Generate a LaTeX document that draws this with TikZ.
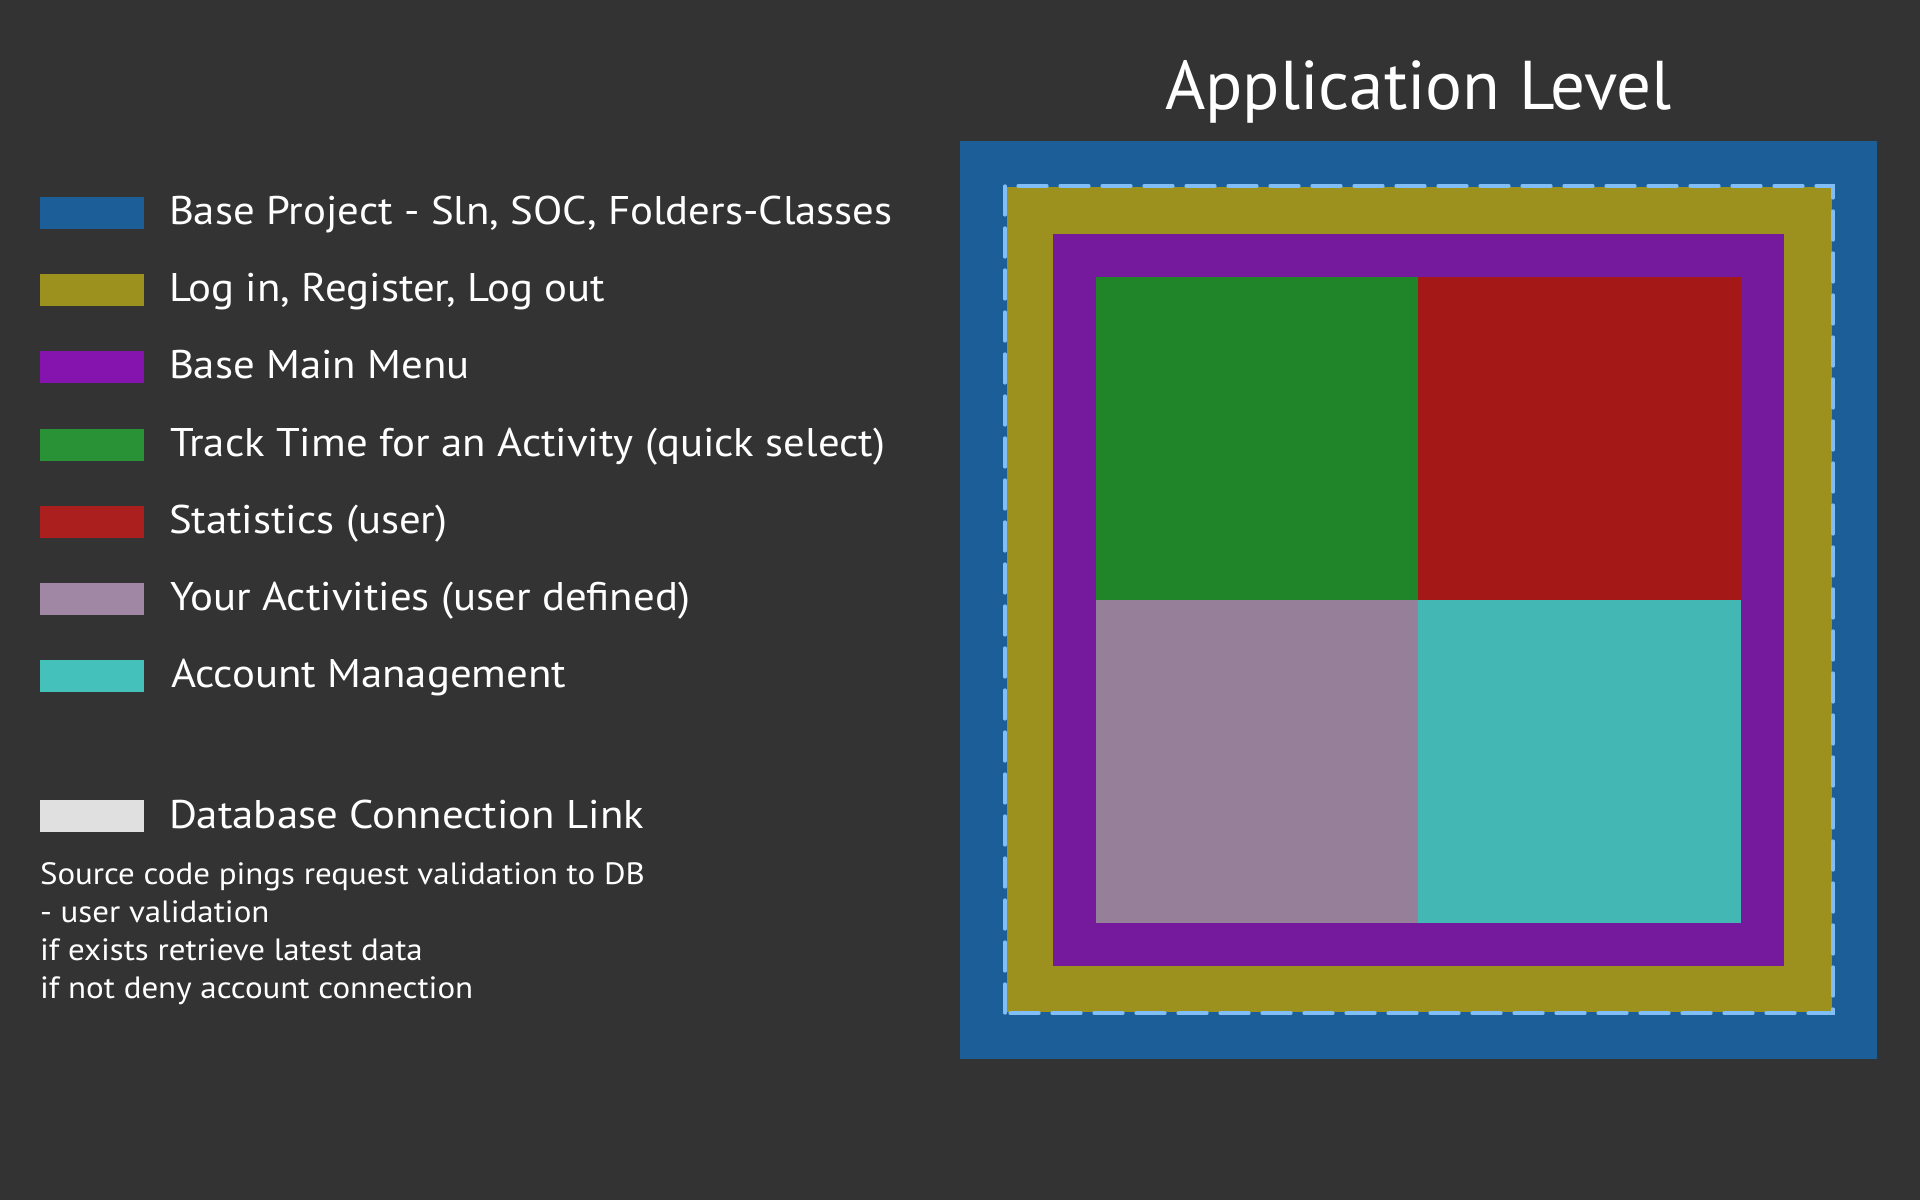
\documentclass[tikz,border=0pt]{standalone}
\usepackage{fontspec}
\setmainfont{PT Sans}
\newfontfamily\legendfont[FakeStretch=1.07]{PT Sans}
\usepackage{tikz}

\begin{document}
\begin{tikzpicture}[x=0.5pt,y=0.5pt]
\definecolor{fillColor}{RGB}{51,51,51}
\path[use as bounding box,fill=fillColor] (0,0) rectangle (1920,1200);
\definecolor{drawColor}{RGB}{255,255,255}

% title
\node[text=drawColor,anchor=base,inner sep=0pt,outer sep=0pt,font=\fontsize{34.5}{41}\selectfont] (title) at (1418.5,1090) {Application Level};

% nested layers
\definecolor{fillColor}{RGB}{27,94,152}
\path[fill=fillColor] ( 960, 141) rectangle (1877,1059);
\definecolor{fillColor}{RGB}{156,144,30}
\path[fill=fillColor] (1007, 188) rectangle (1832,1013);
\definecolor{drawColor}{RGB}{128,190,245}
\path[draw=drawColor,line width=1.6pt,dash pattern=on 14.5pt off 6.5pt,line cap=round] (1005, 187) rectangle (1833,1014);
\definecolor{fillColor}{RGB}{117,26,156}
\path[fill=fillColor] (1053, 234) rectangle (1784, 966);

% modules
\definecolor{fillColor}{RGB}{31,133,40}
\path[fill=fillColor] (1096, 600) rectangle (1418, 923);
\definecolor{fillColor}{RGB}{165,24,24}
\path[fill=fillColor] (1418, 600) rectangle (1741, 923);
\definecolor{fillColor}{RGB}{150,128,153}
\path[fill=fillColor] (1096, 277) rectangle (1418, 600);
\definecolor{fillColor}{RGB}{66,183,179}
\path[fill=fillColor] (1418, 277) rectangle (1741, 600);

% legend swatches
\definecolor{fillColor}{RGB}{27,94,152}
\path[fill=fillColor] (40, 971) rectangle (144,1003);
\definecolor{fillColor}{RGB}{156,144,30}
\path[fill=fillColor] (40, 894) rectangle (144, 926);
\definecolor{fillColor}{RGB}{133,20,175}
\path[fill=fillColor] (40, 817) rectangle (144, 849);
\definecolor{fillColor}{RGB}{42,146,54}
\path[fill=fillColor] (40, 739) rectangle (144, 771);
\definecolor{fillColor}{RGB}{172,31,31}
\path[fill=fillColor] (40, 662) rectangle (144, 694);
\definecolor{fillColor}{RGB}{160,136,164}
\path[fill=fillColor] (40, 585) rectangle (144, 617);
\definecolor{fillColor}{RGB}{69,193,188}
\path[fill=fillColor] (40, 508) rectangle (144, 540);
\definecolor{fillColor}{RGB}{224,224,224}
\path[fill=fillColor] (40, 368) rectangle (144, 400);

% legend labels
\definecolor{drawColor}{RGB}{255,255,255}
\node[text=drawColor,anchor=base west,inner sep=0pt,outer sep=0pt,font=\legendfont\fontsize{20}{24}\selectfont] (lblbase) at (169, 975) {Base Project - Sln, SOC, Folders-Classes};
\node[text=drawColor,anchor=base west,inner sep=0pt,outer sep=0pt,font=\legendfont\fontsize{20}{24}\selectfont] (lbllogin) at (169, 898) {Log in, Register, Log out};
\node[text=drawColor,anchor=base west,inner sep=0pt,outer sep=0pt,font=\legendfont\fontsize{20}{24}\selectfont] (lblmenu) at (169, 821) {Base Main Menu};
\node[text=drawColor,anchor=base west,inner sep=0pt,outer sep=0pt,font=\legendfont\fontsize{20}{24}\selectfont] (lbltrack) at (170, 743) {Track Time for an Activity (quick select)};
\node[text=drawColor,anchor=base west,inner sep=0pt,outer sep=0pt,font=\legendfont\fontsize{20}{24}\selectfont] (lblstats) at (169, 666) {Statistics (user)};
\node[text=drawColor,anchor=base west,inner sep=0pt,outer sep=0pt,font=\legendfont\fontsize{20}{24}\selectfont] (lblact) at (170, 589) {Your Activities (user defined)};
\node[text=drawColor,anchor=base west,inner sep=0pt,outer sep=0pt,font=\legendfont\fontsize{20}{24}\selectfont] (lblacct) at (171, 512) {Account Management};
\node[text=drawColor,anchor=base west,inner sep=0pt,outer sep=0pt,font=\legendfont\fontsize{20}{24}\selectfont] (lbldb) at (169, 372) {Database Connection Link};

% notes
\node[text=drawColor,anchor=base west,inner sep=0pt,outer sep=0pt,font=\legendfont\fontsize{15.4}{18}\selectfont] (note1) at (40, 316) {Source code pings request validation to DB};
\node[text=drawColor,anchor=base west,inner sep=0pt,outer sep=0pt,font=\legendfont\fontsize{15.4}{18}\selectfont] (note2) at (40, 278) {- user validation};
\node[text=drawColor,anchor=base west,inner sep=0pt,outer sep=0pt,font=\legendfont\fontsize{15.4}{18}\selectfont] (note3) at (40, 240) {if exists retrieve latest data};
\node[text=drawColor,anchor=base west,inner sep=0pt,outer sep=0pt,font=\legendfont\fontsize{15.4}{18}\selectfont] (note4) at (40, 202) {if not deny account connection};
\end{tikzpicture}
\end{document}
